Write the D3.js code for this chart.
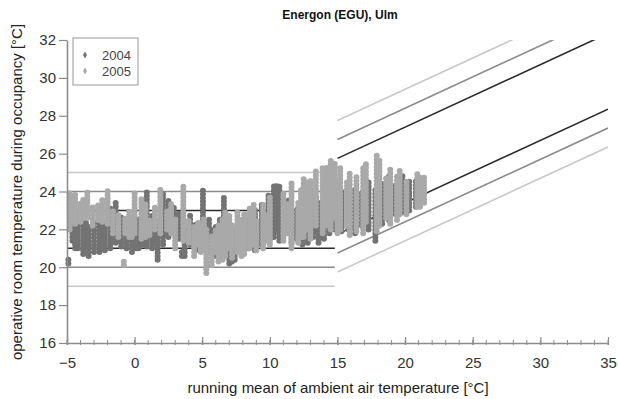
<!DOCTYPE html>
<html>
<head>
<meta charset="utf-8">
<script src="https://cdn.jsdelivr.net/npm/d3@7"></script>
<style>
  body { margin: 0; background: #fff; }
  svg { display: block; font-family: "Liberation Sans", Arial, sans-serif; }
</style>
</head>
<body>
<svg id="chart" width="618" height="399"></svg>
<script>
// x = running mean, lo/hi = spread of the operative room temperature readings on that day
var series2004 = [
  [-4.9, 20.2, 20.5], [-4.6, 21.4, 23.0], [-4.4, 21.0, 22.0], [-4.2, 21.0, 22.8], [-3.8, 20.7, 22.6],
  [-3.6, 21.2, 22.4], [-3.4, 20.6, 22.3], [-3.0, 20.8, 22.5], [-2.6, 20.8, 22.9], [-2.4, 21.0, 22.2],
  [-2.2, 20.9, 22.4], [-1.8, 21.0, 23.2], [-1.4, 21.3, 23.4], [-1.2, 21.4, 22.6], [-1.0, 21.1, 22.7],
  [-0.6, 21.0, 22.4], [-0.2, 20.8, 22.2], [0.1, 21.0, 21.8], [0.3, 21.0, 22.6], [0.6, 21.2, 22.2],
  [0.9, 21.1, 24.1], [1.3, 21.0, 22.8], [1.5, 21.3, 22.6], [1.7, 20.4, 22.3], [2.1, 21.2, 24.0],
  [2.3, 21.8, 23.0], [2.5, 21.6, 23.6], [2.9, 21.8, 23.2], [3.1, 21.6, 22.8], [3.3, 21.5, 23.0],
  [3.5, 20.6, 20.8], [3.7, 20.6, 22.0], [4.1, 21.2, 22.8], [4.3, 21.4, 22.2], [4.5, 20.9, 22.4],
  [5.05, 21.0, 24.1], [5.5, 20.8, 22.6], [5.8, 21.0, 22.0], [6.0, 20.6, 22.3], [6.3, 20.8, 22.6],
  [6.6, 21.0, 23.8], [7.0, 20.2, 21.8], [7.2, 20.3, 21.2], [7.4, 20.4, 22.0], [7.9, 20.8, 22.5],
  [8.1, 21.0, 21.8], [8.4, 21.0, 22.6], [8.9, 20.9, 23.0], [9.4, 21.2, 23.4], [9.6, 21.8, 23.0],
  [9.9, 21.5, 23.8], [10.3, 21.6, 24.4], [10.5, 22.0, 24.4], [10.7, 21.4, 24.3], [11.1, 21.8, 23.5],
  [11.4, 22.2, 23.6], [11.6, 21.3, 23.0], [12.0, 21.5, 23.2], [12.4, 21.2, 22.8], [12.6, 22.0, 23.0],
  [12.8, 21.3, 23.4], [13.2, 21.6, 23.9], [13.4, 22.0, 23.8], [13.6, 21.3, 23.5], [13.8, 21.6, 22.6],
  [14.0, 21.5, 23.2], [14.2, 22.2, 23.4], [14.4, 21.8, 24.0], [14.8, 22.0, 24.3], [15.3, 21.9, 24.0],
  [15.8, 22.0, 24.5], [16.3, 21.8, 24.2], [16.8, 22.2, 24.0], [17.3, 22.0, 24.6], [17.8, 21.4, 24.2],
  [18.3, 22.3, 24.5], [18.8, 22.5, 24.8], [19.3, 22.8, 24.4], [19.8, 22.9, 24.9], [20.3, 23.0, 24.6],
  [20.8, 23.2, 24.7]
];
var series2005 = [
  [-4.8, 22.0, 24.0], [-4.6, 22.4, 23.8], [-4.4, 22.3, 24.0], [-4.0, 22.4, 23.5], [-3.8, 22.6, 23.6],
  [-3.5, 22.6, 24.0], [-3.1, 22.2, 23.2], [-2.7, 22.5, 23.4], [-2.4, 22.4, 23.6], [-2.0, 22.3, 24.1],
  [-1.6, 21.8, 23.0], [-1.2, 21.6, 22.8], [-0.8, 20.1, 20.3], [-0.7, 21.8, 22.6], [-0.4, 21.6, 23.0],
  [-0.2, 21.6, 22.6], [0.0, 21.8, 24.0], [0.5, 21.5, 23.6], [0.8, 21.6, 23.4], [1.1, 21.7, 22.6],
  [1.5, 22.0, 23.2], [1.9, 21.8, 24.1], [2.4, 22.0, 23.0], [2.7, 21.8, 23.4], [3.0, 21.0, 22.6],
  [3.6, 21.4, 24.4], [4.0, 21.3, 22.6], [4.4, 20.6, 22.2], [4.7, 21.2, 22.4], [4.9, 20.8, 22.0],
  [5.1, 21.0, 22.6], [5.3, 19.7, 22.0], [5.7, 20.1, 21.8], [6.0, 20.8, 22.0], [6.2, 20.3, 22.3],
  [6.5, 20.4, 22.6], [6.7, 20.6, 22.9], [7.0, 21.0, 22.8], [7.2, 20.5, 22.4], [7.6, 20.8, 23.0],
  [7.9, 20.6, 22.6], [8.1, 20.7, 22.8], [8.5, 21.0, 23.2], [8.8, 21.2, 23.4], [9.0, 20.9, 22.6],
  [9.5, 21.0, 23.4], [9.7, 21.4, 22.8], [10.0, 21.2, 23.7], [11.0, 21.4, 24.0], [11.3, 21.8, 23.4],
  [11.6, 21.0, 24.6], [12.1, 21.3, 23.5], [12.3, 21.6, 24.2], [12.5, 21.6, 24.8], [12.8, 22.0, 24.6],
  [13.0, 21.5, 24.7], [13.4, 22.2, 25.2], [13.9, 21.8, 25.4], [14.2, 22.2, 25.3],
  [14.5, 22.0, 25.8], [14.8, 22.6, 25.6], [15.0, 21.8, 24.6], [15.2, 22.0, 25.4],
  [15.7, 22.2, 24.6], [15.9, 21.7, 25.0], [16.4, 21.9, 24.8],
  [16.9, 21.8, 25.4], [17.1, 22.4, 25.6], [17.9, 21.9, 25.9], [18.1, 22.2, 25.8],
  [18.6, 22.6, 24.8], [18.9, 22.3, 25.2], [19.4, 22.5, 24.8],
  [19.6, 22.8, 25.2], [20.1, 22.8, 24.6], [20.9, 23.2, 25.0],
  [21.1, 23.2, 24.8], [21.4, 23.4, 24.9]
];

// fixed limits below 15 °C, adaptive limits above (comfort = slope * x + base)
var fixedLow = [21, 20, 19];
var fixedHigh = [23, 24, 25];
var adaptiveOffset = [2, 3, 4];
var adaptiveSlope = 0.33;
var adaptiveBase = 18.8;
var lineColors = ["#2a2a2a", "#8a8a8a", "#c8c8c8"];

var xTicks = [-5, 0, 5, 10, 15, 20, 25, 30, 35];
var yTicks = [16, 18, 20, 22, 24, 26, 28, 30, 32];
var years = ["2004", "2005"];
var yearColors = ["#737373", "#a9a9a9"];

var svg = d3.select("#chart");
var x = d3.scaleLinear().domain([-5, 35]).range([67, 608]);
var y = d3.scaleLinear().domain([16, 32]).range([343, 40]);

svg.append("defs").append("clipPath").attr("id", "plot")
  .append("rect")
  .attr("x", x(-5)).attr("y", y(32))
  .attr("width", x(35) - x(-5)).attr("height", y(16) - y(32));

var lines = svg.append("g").attr("clip-path", "url(#plot)");

// horizontal limits
[fixedLow, fixedHigh].forEach(function (arr) {
  lines.selectAll(null).data(arr).enter().append("line")
    .attr("x1", x(-5)).attr("x2", x(14.8))
    .attr("y1", function (d) { return y(d); })
    .attr("y2", function (d) { return y(d); })
    .attr("stroke", function (d, i) { return lineColors[i]; })
    .attr("stroke-width", 1.6);
});

// sloped limits
[1, -1].forEach(function (sign) {
  lines.selectAll(null).data(adaptiveOffset).enter().append("line")
    .attr("x1", x(15)).attr("x2", x(35))
    .attr("y1", function (d) { return y(adaptiveSlope * 15 + adaptiveBase + sign * d); })
    .attr("y2", function (d) { return y(adaptiveSlope * 35 + adaptiveBase + sign * d); })
    .attr("stroke", function (d, i) { return lineColors[i]; })
    .attr("stroke-width", 1.6);
});

// readings: each day is a column of stacked markers
[series2004, series2005].forEach(function (data, k) {
  svg.append("g").selectAll("line").data(data).enter().append("line")
    .attr("x1", function (d) { return x(d[0]); })
    .attr("x2", function (d) { return x(d[0]); })
    .attr("y1", function (d) { return y(d[1]); })
    .attr("y2", function (d) { return y(d[2]); })
    .attr("stroke", yearColors[k])
    .attr("stroke-width", 6)
    .attr("stroke-linecap", "round")
    .attr("stroke-dasharray", "0 3.6");
});

// axes
var axisColor = "#8c8c8c";
var yAxis = svg.append("g").attr("transform", "translate(" + x(-5) + ",0)")
  .call(d3.axisLeft(y).tickValues(yTicks).tickSize(8).tickPadding(3).tickSizeOuter(0));
var xAxis = svg.append("g").attr("transform", "translate(0," + y(16) + ")")
  .call(d3.axisBottom(x).tickValues(xTicks).tickSize(0).tickPadding(14).tickSizeOuter(0));
[yAxis, xAxis].forEach(function (g) {
  g.select(".domain").attr("stroke", axisColor).attr("stroke-width", 1.6);
  g.selectAll(".tick line").attr("stroke", axisColor).attr("stroke-width", 1.2);
  g.selectAll("text").attr("fill", "#333").style("font-size", "15px")
    .style("font-family", "Liberation Sans, Arial, sans-serif");
});
xAxis.selectAll(".tick line").attr("y1", 2).attr("y2", -6);
xAxis.selectAll(null).data(d3.range(-5, 36)).enter().append("line")
  .attr("x1", function (d) { return x(d); }).attr("x2", function (d) { return x(d); })
  .attr("y1", 2).attr("y2", -3)
  .attr("stroke", axisColor).attr("stroke-width", 1);

// labels
svg.append("text").attr("x", 340).attr("y", 19).attr("text-anchor", "middle")
  .style("font-size", "12px").style("font-weight", "bold").attr("fill", "#111")
  .text("Energon (EGU), Ulm");
svg.append("text").attr("x", 338).attr("y", 393).attr("text-anchor", "middle")
  .style("font-size", "15px").attr("fill", "#222")
  .text("running mean of ambient air temperature [°C]");
svg.append("text").attr("transform", "translate(22,192) rotate(-90)")
  .attr("text-anchor", "middle").style("font-size", "15px").attr("fill", "#222")
  .text("operative room temperature during occupancy [°C]");

// legend
var legend = svg.append("g");
legend.append("rect").attr("x", 73).attr("y", 38).attr("width", 65).attr("height", 47)
  .attr("fill", "#fff").attr("stroke", "#999").attr("stroke-width", 1);
years.forEach(function (yr, i) {
  legend.append("path")
    .attr("d", d3.symbol(d3.symbolDiamond, 14)())
    .attr("transform", "translate(85," + (55 + i * 16) + ")")
    .attr("fill", yearColors[i]);
  legend.append("text").attr("x", 102).attr("y", 60 + i * 16)
    .style("font-size", "13px").attr("fill", "#444").text(yr);
});
</script>
</body>
</html>
